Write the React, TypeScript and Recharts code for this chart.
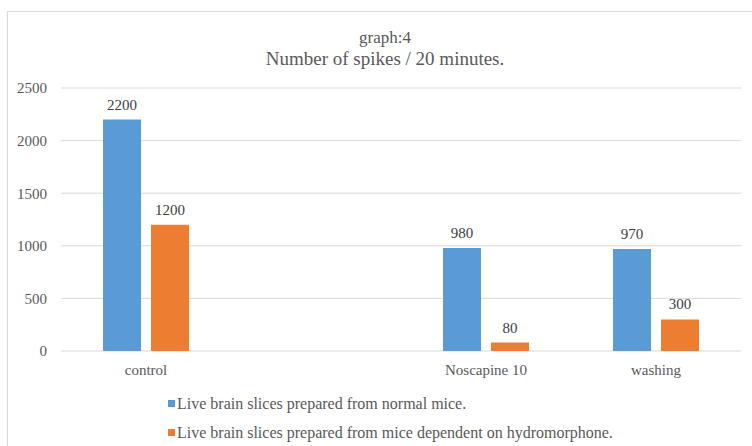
import { Bar, BarChart, CartesianGrid, LabelList, Legend, XAxis, YAxis } from "recharts";

const categories = ["control", "", "Noscapine 10", "washing"];
const normalMice = [2200, null, 980, 970];
const dependentMice = [1200, null, 80, 300];
const yTicks = [0, 500, 1000, 1500, 2000, 2500];

const seriesNames = {
  normal: "Live brain slices prepared from normal mice.",
  dependent: "Live brain slices prepared from mice dependent on hydromorphone.",
};

const blue = "#5b9bd5";
const orange = "#ed7d31";
const textColor = "#595959";
const font = "Liberation Serif";

const data = categories.map((name, i) => ({
  name,
  normal: normalMice[i],
  dependent: dependentMice[i],
}));

function XTick({ x, y, payload }: any) {
  return (
    <text x={x} y={y + 13} dy="0.71em" textAnchor="middle" fill={textColor} fontFamily={font} fontSize={15}>
      {payload.value}
    </text>
  );
}

function YTick({ x, y, payload }: any) {
  return (
    <text x={x - 14} y={y} dy="0.355em" textAnchor="end" fill={textColor} fontFamily={font} fontSize={15}>
      {payload.value}
    </text>
  );
}

function ValueLabel({ x, y, width, value }: any) {
  if (value == null) return null;
  return (
    <text x={x + width / 2} y={y - 10} textAnchor="middle" fill="#404040" fontFamily={font} fontSize={15}>
      {value}
    </text>
  );
}

function SpikesLegend() {
  const rows = [
    { label: seriesNames.normal, color: blue },
    { label: seriesNames.dependent, color: orange },
  ];
  return (
    <div style={{ fontFamily: font, fontSize: 16, color: textColor }}>
      {rows.map((r) => (
        <div key={r.label} style={{ display: "flex", alignItems: "center", height: 29, whiteSpace: "nowrap" }}>
          <span style={{ width: 7, height: 7, background: r.color, marginRight: 2, display: "inline-block" }} />
          {r.label}
        </div>
      ))}
    </div>
  );
}

export default function App() {
  return (
    <div
      style={{
        position: "absolute",
        left: 0,
        top: 0,
        width: 752,
        height: 446,
        background: "#fff",
        overflow: "hidden",
        fontFamily: font,
      }}
    >
      <div
        style={{
          position: "absolute",
          left: 7,
          top: 11,
          width: 800,
          height: 500,
          borderLeft: "1px solid #d9d9d9",
          borderTop: "1px solid #d9d9d9",
        }}
      />
      <div style={{ position: "absolute", left: 0, top: 27, width: 770, textAlign: "center", color: textColor }}>
        <div style={{ fontSize: 17, lineHeight: "21px" }}>graph:4</div>
        <div style={{ fontSize: 19, lineHeight: "21px" }}>Number of spikes / 20 minutes.</div>
      </div>
      <div style={{ position: "absolute", left: 0, top: 0 }}>
        <BarChart
          width={752}
          height={446}
          data={data}
          margin={{ top: 88, right: 11, bottom: 0, left: 0 }}
          barSize={38}
          barGap={10}
        >
          <CartesianGrid vertical={false} stroke="#d9d9d9" />
          <XAxis
            dataKey="name"
            interval={0}
            height={95}
            axisLine={false}
            tickLine={false}
            tickSize={0}
            tickMargin={0}
            tick={<XTick />}
          />
          <YAxis
            width={61}
            domain={[0, 2500]}
            ticks={yTicks}
            axisLine={false}
            tickLine={false}
            tickSize={0}
            tickMargin={0}
            tick={<YTick />}
          />
          <Legend
            layout="vertical"
            align="center"
            verticalAlign="middle"
            wrapperStyle={{ top: 389, left: 168, width: 560 }}
            content={() => <SpikesLegend />}
          />
          <Bar dataKey="normal" name={seriesNames.normal} fill={blue} isAnimationActive={false}>
            <LabelList dataKey="normal" content={<ValueLabel />} />
          </Bar>
          <Bar dataKey="dependent" name={seriesNames.dependent} fill={orange} isAnimationActive={false}>
            <LabelList dataKey="dependent" content={<ValueLabel />} />
          </Bar>
        </BarChart>
      </div>
    </div>
  );
}
